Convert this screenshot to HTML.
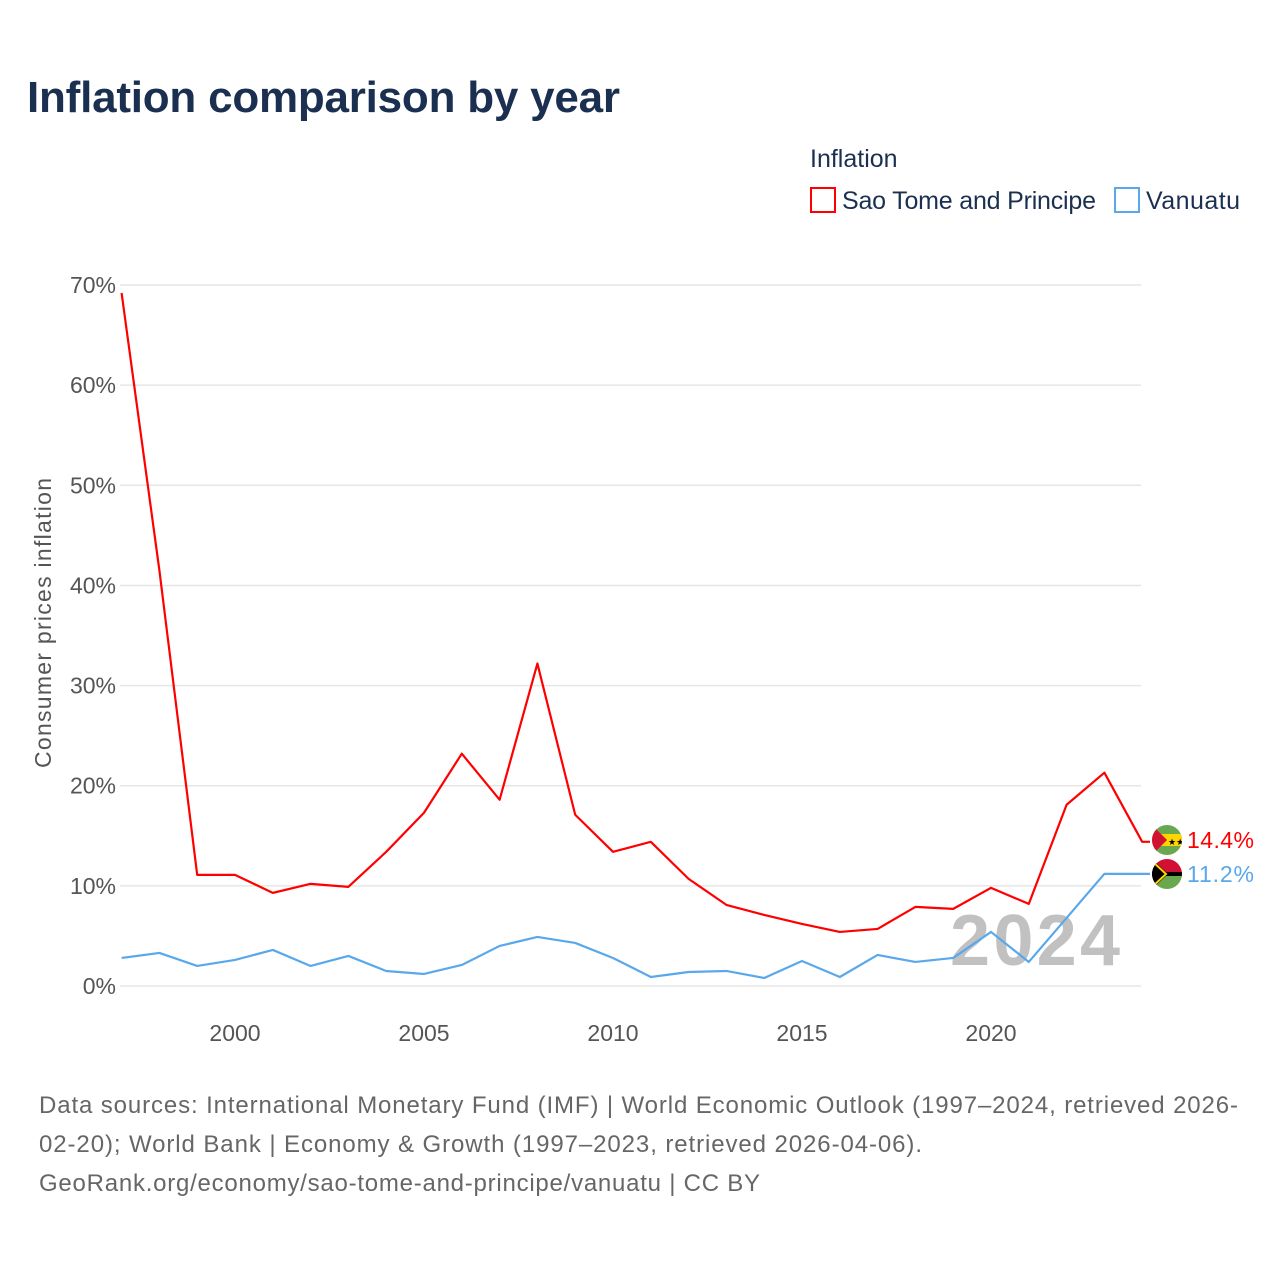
<!DOCTYPE html>
<html><head><meta charset="utf-8"><style>
body{margin:0;background:#fff;font-family:"Liberation Sans",sans-serif;}
</style></head><body>
<svg width="1280" height="1280" xmlns="http://www.w3.org/2000/svg">
<text x="27" y="112" font-size="44" font-weight="bold" fill="#1b3050" textLength="593">Inflation comparison by year</text>
<text x="810" y="167" font-size="25" fill="#1b3050">Inflation</text>
<g><rect x="811" y="188" width="24" height="24" fill="#fff" stroke="#f00" stroke-width="2"/><text x="842" y="209" font-size="25" fill="#1b3050" textLength="254">Sao Tome and Principe</text></g>
<g><rect x="1115" y="188" width="24" height="24" fill="#fff" stroke="#5aa8ec" stroke-width="2"/><text x="1146" y="209" font-size="25" fill="#1b3050" textLength="94">Vanuatu</text></g>
<g id="grid"></g><g id="yt"></g><g id="xt"></g>
<text transform="translate(51,623) rotate(-90)" text-anchor="middle" font-size="23" fill="#555" textLength="290">Consumer prices inflation</text>
<text x="1120" y="965" text-anchor="end" font-size="72" font-weight="bold" fill="#bbb" opacity="0.9" textLength="170">2024</text>
<g id="lines"></g>
<g>
<clipPath id="c1"><circle cx="1167" cy="840" r="15"/></clipPath>
<g clip-path="url(#c1)"><rect x="1150" y="823" width="34" height="34" fill="#6aa84f"/><rect x="1150" y="834" width="34" height="12" fill="#ffd500"/><polygon points="1152,825 1167,840 1152,855" fill="#d21034"/><text x="1168" y="845" font-size="9" fill="#000">★★</text></g></g>
<g>
<clipPath id="c2"><circle cx="1167" cy="874" r="15"/></clipPath>
<g clip-path="url(#c2)"><rect x="1150" y="857" width="34" height="17" fill="#d21034"/><rect x="1150" y="874" width="34" height="17" fill="#6aa84f"/><rect x="1150" y="872" width="34" height="4" fill="#000"/><polygon points="1150,857 1168,874 1150,891" fill="#000"/><polyline points="1152,861 1166,874 1152,887" fill="none" stroke="#ffd500" stroke-width="2"/></g></g>
<text x="1187" y="848" font-size="23" fill="#f00" textLength="67">14.4%</text>
<text x="1187" y="882" font-size="23" fill="#5aa8ec" textLength="67">11.2%</text>
<text font-size="24" fill="#666"><tspan x="39" y="1113" textLength="1199">Data sources: International Monetary Fund (IMF) | World Economic Outlook (1997–2024, retrieved 2026-</tspan><tspan x="39" y="1152" textLength="883">02-20); World Bank | Economy &amp; Growth (1997–2023, retrieved 2026-04-06).</tspan><tspan x="39" y="1191" textLength="721">GeoRank.org/economy/sao-tome-and-principe/vanuatu | CC BY</tspan></text>
</svg>
<script>
const years=[1997,1998,1999,2000,2001,2002,2003,2004,2005,2006,2007,2008,2009,2010,2011,2012,2013,2014,2015,2016,2017,2018,2019,2020,2021,2022,2023,2024];
const saoTome=[69.2,41.5,11.1,11.1,9.3,10.2,9.9,13.4,17.3,23.2,18.6,32.2,17.1,13.4,14.4,10.7,8.1,7.1,6.2,5.4,5.7,7.9,7.7,9.8,8.2,18.1,21.3,14.4];
const vanuatu=[2.8,3.3,2.0,2.6,3.6,2.0,3.0,1.5,1.2,2.1,4.0,4.9,4.3,2.8,0.9,1.4,1.5,0.8,2.5,0.9,3.1,2.4,2.8,5.4,2.4,6.8,11.2];
const yTicks=[0,10,20,30,40,50,60,70];
const xTicks=[2000,2005,2010,2015,2020];
const NS="http://www.w3.org/2000/svg";
const X=y=>121.6+(y-1997)*37.8;
const Y=v=>986-v*10.014;
function mk(t,a,p){const e=document.createElementNS(NS,t);for(const k in a)e.setAttribute(k,a[k]);document.getElementById(p).appendChild(e);return e;}
yTicks.forEach(v=>{
 const g=mk('line',{x1:120,x2:1141,y1:Y(v),y2:Y(v),stroke:'#e6e6e6','stroke-width':1.5},'grid');
 
 
 const t=mk('text',{x:116,y:Y(v)+8,'text-anchor':'end','font-size':23,fill:'#555'},'yt');
 t.textContent=v+'%';
 
 
});
xTicks.forEach(v=>{
 const t=mk('text',{x:X(v),y:1041,'text-anchor':'middle','font-size':23,fill:'#555'},'xt');
 t.textContent=v;
 
 
});
function line(vals,col,name){
 let pts=vals.map((v,i)=>X(years[i])+','+Y(v));
 const last=vals[vals.length-1];
 pts.push('1150,'+Y(last));
 const l=mk('polyline',{points:pts.join(' '),fill:'none',stroke:col,'stroke-width':2.2,'stroke-linejoin':'round'},'lines');
 
 
}
line(vanuatu,'#5aa8ec','line-vanuatu');
line(saoTome,'#f00','line-sao-tome');
</script>
</body></html>
